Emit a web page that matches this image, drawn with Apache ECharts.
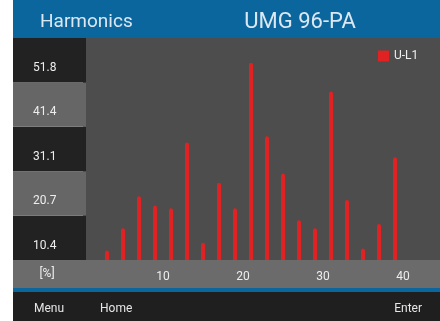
<!DOCTYPE html>
<html>
<head>
<meta charset="utf-8">
<script src="https://cdn.jsdelivr.net/npm/echarts@6/dist/echarts.min.js"></script>
<style>
  html, body { margin: 0; padding: 0; background: #ffffff; }
  #chart { width: 440px; height: 321px; }
</style>
</head>
<body>
<div id="chart"></div>
<script>
// Harmonic orders (odd harmonics 3..39) and their level in percent
var harmonics = [3, 5, 7, 9, 11, 13, 15, 17, 19, 21, 23, 25, 27, 29, 31, 33, 35, 37, 39];
var levelsUL1 = [2.2, 7.4, 14.9, 12.7, 12.1, 27.4, 4.0, 18.0, 12.1, 46.0, 28.9, 20.2, 9.3, 7.4, 39.3, 14.0, 2.7, 8.4, 24.0];
var seriesName = 'U-L1';

// Vertical scale: five bands, each 1/5 of full scale
var yFullScale = 51.8;
var yStep = yFullScale / 5;
var xTickStep = 10;

var FONT = 'Roboto, "DejaVu Sans", sans-serif';

var chart = echarts.init(document.getElementById('chart'), null, { renderer: 'canvas' });

var barData = harmonics.map(function (h, i) { return [h, levelsUL1[i]]; });

chart.setOption({
  animation: false,
  backgroundColor: '#ffffff',
  textStyle: { fontFamily: FONT },
  graphic: [
    // title bar
    { type: 'rect', shape: { x: 13, y: 0, width: 427, height: 38 }, style: { fill: '#0c669e' }, z: 0 },
    { type: 'text', x: 40, y: 22, style: { text: 'Harmonics', fill: '#dbe8f2', font: '19px ' + FONT, textVerticalAlign: 'middle' }, z: 10 },
    { type: 'text', x: 300, y: 22, style: { text: 'UMG 96-PA', fill: '#dbe8f2', font: '22px ' + FONT, textAlign: 'center', textVerticalAlign: 'middle' }, z: 10 },
    // axis strip, separator and soft-key bar
    { type: 'rect', shape: { x: 13, y: 260, width: 427, height: 28 }, style: { fill: '#6b6b6b' }, z: 0 },
    { type: 'text', x: 47, y: 274, style: { text: '[%]', fill: '#eeeeee', font: '12px ' + FONT, textAlign: 'center', textVerticalAlign: 'middle' }, z: 10 },
    { type: 'rect', shape: { x: 13, y: 288, width: 427, height: 4 }, style: { fill: '#0c669e' }, z: 0 },
    { type: 'rect', shape: { x: 13, y: 292, width: 427, height: 29 }, style: { fill: '#1f1f1f' }, z: 0 },
    { type: 'text', x: 49, y: 309, style: { text: 'Menu', fill: '#e6e6e6', font: '12px ' + FONT, textAlign: 'center', textVerticalAlign: 'middle' }, z: 10 },
    { type: 'text', x: 100, y: 309, style: { text: 'Home', fill: '#e6e6e6', font: '12px ' + FONT, textVerticalAlign: 'middle' }, z: 10 },
    { type: 'text', x: 422, y: 309, style: { text: 'Enter', fill: '#e6e6e6', font: '12px ' + FONT, textAlign: 'right', textVerticalAlign: 'middle' }, z: 10 }
  ],
  legend: {
    data: [seriesName],
    left: 373,
    top: 45,
    icon: 'rect',
    itemWidth: 11,
    itemHeight: 11,
    itemGap: 5,
    textStyle: { color: '#eeeeee', fontSize: 12, fontFamily: FONT }
  },
  grid: [
    // plot area
    { left: 83, top: 38, width: 357, height: 222, show: true, backgroundColor: '#4d4d4d', borderWidth: 0, containLabel: false },
    // scale column on the left
    { left: 13, top: 38, width: 73, height: 222, show: false, containLabel: false }
  ],
  xAxis: [
    {
      type: 'value', gridIndex: 0, min: 0, max: 357 / 8, interval: xTickStep,
      axisLine: { show: false }, axisTick: { show: false }, splitLine: { show: false },
      axisLabel: {
        color: '#eeeeee', fontSize: 12, fontFamily: FONT, margin: 11,
        showMaxLabel: false,
        formatter: function (v) { return (v > 0 && v % xTickStep === 0) ? String(v) : ''; }
      }
    },
    { type: 'value', gridIndex: 1, show: false }
  ],
  yAxis: [
    {
      type: 'value', gridIndex: 0, min: 0, max: yFullScale, interval: yStep,
      axisLine: { show: false }, axisTick: { show: false }, splitLine: { show: false },
      axisLabel: { show: false }
    },
    {
      type: 'value', gridIndex: 1, min: 0, max: yFullScale, interval: yStep,
      axisLine: { show: false }, axisTick: { show: false }, splitLine: { show: false },
      splitArea: { show: true, areaStyle: { color: ['#222222', '#666666'] } },
      axisLabel: {
        inside: true, margin: 20, color: '#eeeeee', fontSize: 12, fontFamily: FONT,
        verticalAlign: 'top', lineHeight: 14, padding: [23, 0, 0, 0],
        formatter: function (v) { return v > 0 ? v.toFixed(1) : ''; }
      }
    }
  ],
  series: [
    {
      name: seriesName,
      type: 'bar',
      xAxisIndex: 0,
      yAxisIndex: 0,
      data: barData,
      barWidth: 4,
      itemStyle: { color: '#e12222', borderRadius: [2, 2, 0, 0] }
    }
  ]
});
</script>
</body>
</html>
